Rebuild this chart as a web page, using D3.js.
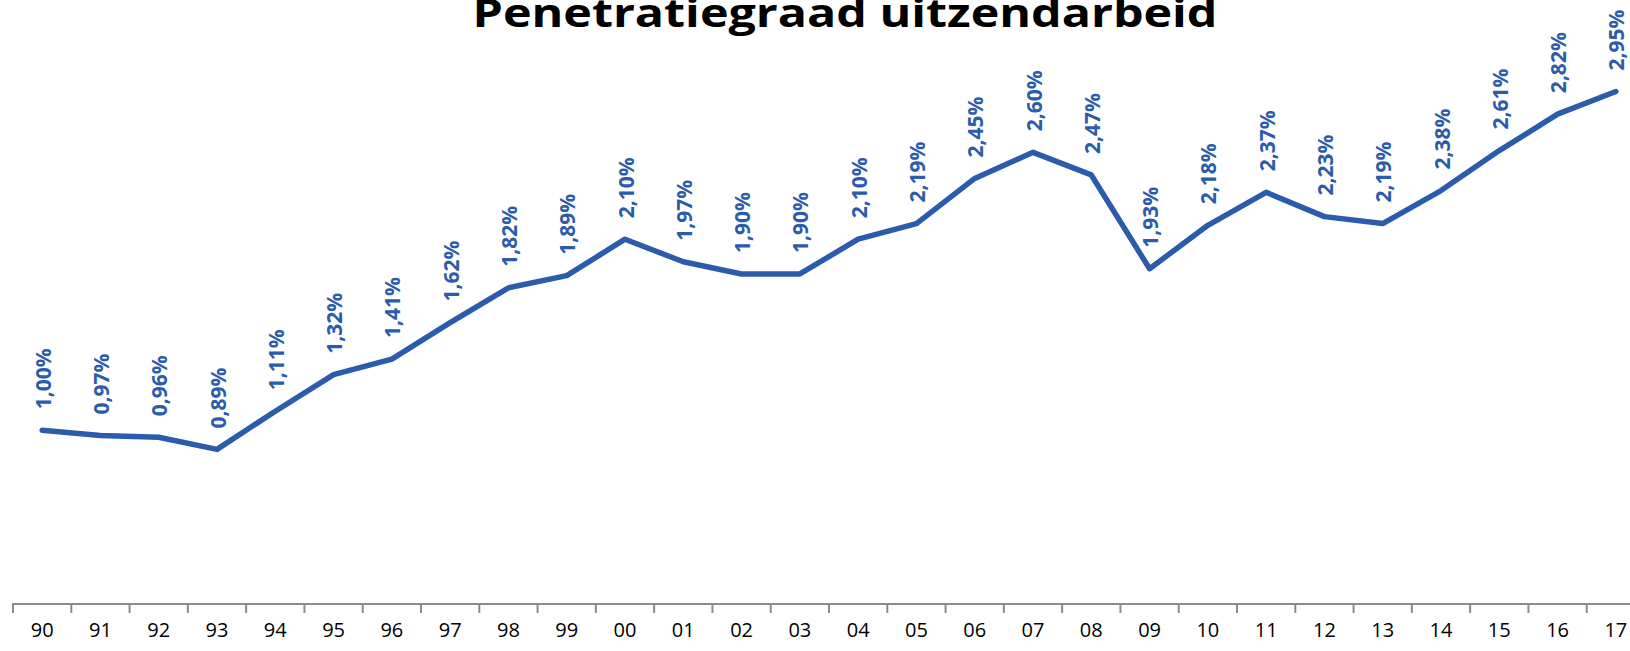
<!DOCTYPE html>
<html lang="nl">
<head>
    <meta charset="UTF-8">
    <title>Penetratiegraad uitzendarbeid</title>
    <style>
        body { margin: 0; background: #fff; overflow: hidden; }
    </style>
</head>
<body>
<script src="https://d3js.org/d3.v7.min.js"></script>
<script>
    let years = ['90', '91', '92', '93', '94', '95', '96', '97', '98', '99',
        '00', '01', '02', '03', '04', '05', '06', '07', '08', '09',
        '10', '11', '12', '13', '14', '15', '16', '17'];
    let rates = [1.00, 0.97, 0.96, 0.89, 1.11, 1.32, 1.41, 1.62, 1.82, 1.89,
        2.10, 1.97, 1.90, 1.90, 2.10, 2.19, 2.45, 2.60, 2.47, 1.93,
        2.18, 2.37, 2.23, 2.19, 2.38, 2.61, 2.82, 2.95];
    let title = 'Penetratiegraad uitzendarbeid';

    let width = 1630;
    let height = 651;
    let blue = '#2b5cab';
    let fmt = d => d.toFixed(2).replace('.', ',') + '%';

    let data = years.map((y, i) => ({ year: y, rate: rates[i] }));

    let svg = d3.select('body')
        .append('svg')
        .attr('width', width)
        .attr('height', height);

    let xScale = d3.scaleBand()
        .domain(years)
        .range([13, 1645]);

    let yScale = d3.scaleLinear()
        .domain([0, 3.5])
        .range([604, -4]);

    let xAxis = d3.axisBottom(xScale).tickSize(9).tickPadding(10);

    let gx = svg.append('g')
        .attr('transform', 'translate(0,604)')
        .call(xAxis);
    gx.select('.domain').attr('stroke', '#8c8c8c').attr('stroke-width', 2)
        .attr('d', 'M13,9V0H1645V9');
    gx.selectAll('.tick line').remove();
    gx.selectAll('.tick text')
        .attr('font-family', 'Open Sans')
        .attr('font-size', 20)
        .attr('fill', '#000');
    // ticks sit between the categories, not under them
    svg.append('g').selectAll('line')
        .data(years)
        .enter()
        .append('line')
        .attr('x1', d => xScale(d) + xScale.bandwidth())
        .attr('x2', d => xScale(d) + xScale.bandwidth())
        .attr('y1', 604)
        .attr('y2', 613)
        .attr('stroke', '#8c8c8c')
        .attr('stroke-width', 2);

    let xMid = d => xScale(d.year) + xScale.bandwidth() / 2;

    let line = d3.line()
        .x(xMid)
        .y(d => yScale(d.rate));

    svg.append('path')
        .datum(data)
        .attr('d', line)
        .attr('fill', 'none')
        .attr('stroke', blue)
        .attr('stroke-width', 5.5)
        .attr('stroke-linejoin', 'round')
        .attr('stroke-linecap', 'round');

    svg.append('g').selectAll('text')
        .data(data)
        .enter()
        .append('text')
        .attr('transform', d => 'translate(' + (xMid(d) + 1) + ',' + (yScale(d.rate) - 21) + ') rotate(-90)')
        .attr('dy', '0.36em')
        .attr('font-family', 'Open Sans')
        .attr('font-weight', 'bold')
        .attr('font-size', 21)
        .attr('fill', blue)
        .text(d => fmt(d.rate));

    svg.append('text')
        .attr('x', 845)
        .attr('y', 27)
        .attr('text-anchor', 'middle')
        .attr('font-family', 'Open Sans')
        .attr('font-weight', 'bold')
        .attr('font-size', 40)
        .attr('textLength', 745)
        .attr('lengthAdjust', 'spacingAndGlyphs')
        .attr('fill', '#000')
        .text(title);
</script>
</body>
</html>
